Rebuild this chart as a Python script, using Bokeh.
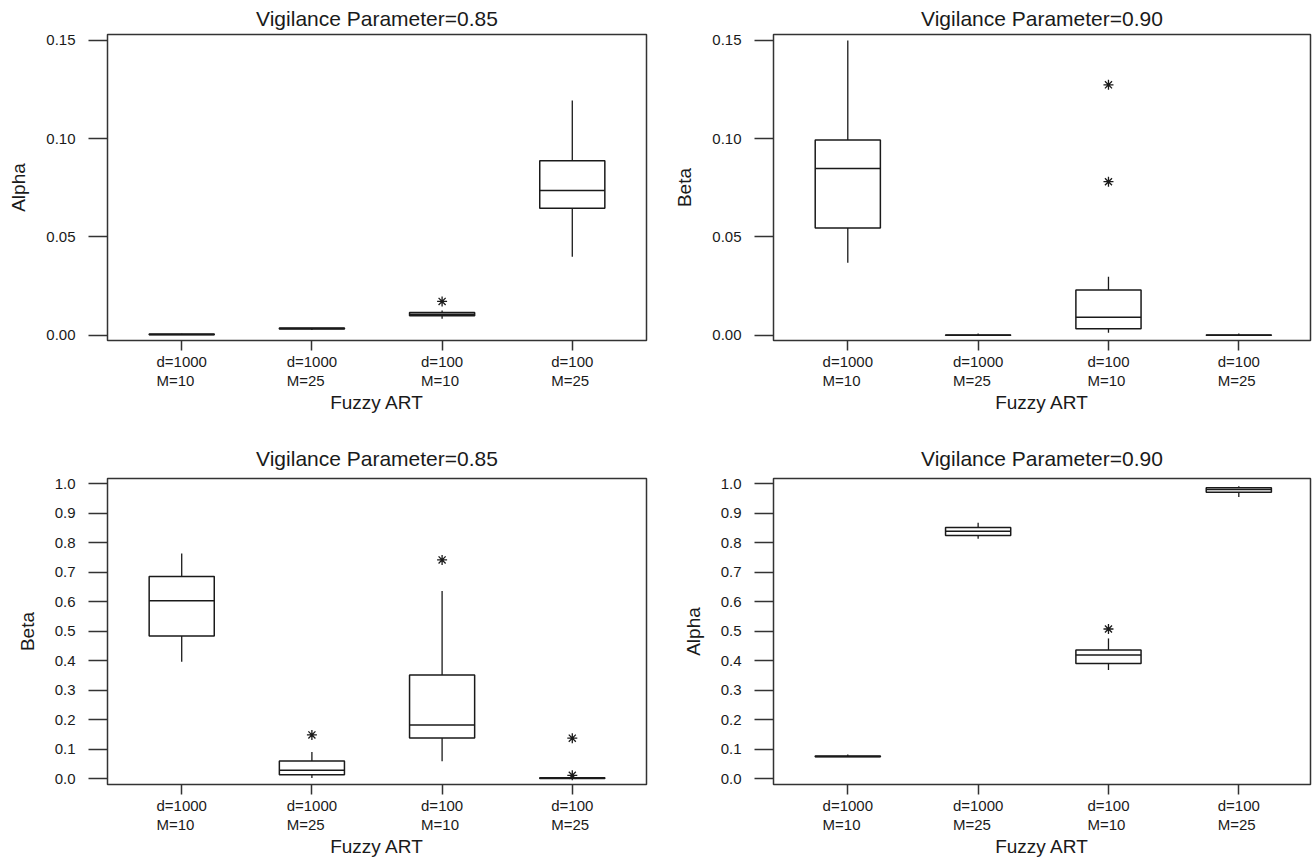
from bokeh.plotting import figure
from bokeh.layouts import column, row
from bokeh.models import FixedTicker, NumeralTickFormatter, ColumnDataSource, Range1d
from bokeh.embed import file_html
from bokeh.resources import INLINE

# ---------------- data ----------------
d_labels = ["d=1000", "d=1000", "d=100", "d=100"]
m_labels = ["M=10", "M=25", "M=10", "M=25"]

# Panel A: Alpha, vigilance 0.85
a85_lo = [0.0001, 0.0027, 0.0084, 0.0399]
a85_q1 = [0.0002, 0.0032, 0.0099, 0.0646]
a85_med = [0.0004, 0.0034, 0.0106, 0.0736]
a85_q3 = [0.0006, 0.0036, 0.0116, 0.0887]
a85_hi = [0.0007, 0.0037, 0.0126, 0.1194]
a85_out_x = [3]
a85_out_y = [0.0172]

# Panel B: Beta, vigilance 0.90
b90_lo = [0.0369, 0.0, 0.0012, 0.0]
b90_q1 = [0.0545, 0.0, 0.0033, 0.0]
b90_med = [0.0848, 0.0, 0.0091, 0.0]
b90_q3 = [0.0993, 0.0001, 0.0230, 0.0001]
b90_hi = [0.1500, 0.0008, 0.0298, 0.0008]
b90_out_x = [3, 3]
b90_out_y = [0.1274, 0.0781]

# Panel C: Beta, vigilance 0.85
b85_lo = [0.397, 0.0034, 0.060, 0.000]
b85_q1 = [0.484, 0.0140, 0.139, 0.001]
b85_med = [0.604, 0.029, 0.183, 0.002]
b85_q3 = [0.686, 0.0606, 0.352, 0.004]
b85_hi = [0.764, 0.091, 0.637, 0.005]
b85_out_x = [2, 3, 4, 4]
b85_out_y = [0.149, 0.742, 0.138, 0.012]

# Panel D: Alpha, vigilance 0.90
a90_lo = [0.074, 0.814, 0.369, 0.955]
a90_q1 = [0.075, 0.825, 0.391, 0.971]
a90_med = [0.076, 0.839, 0.420, 0.981]
a90_q3 = [0.078, 0.852, 0.437, 0.987]
a90_hi = [0.083, 0.868, 0.476, 0.992]
a90_out_x = [3]
a90_out_y = [0.508]

FONT = "Liberation Sans"
INK = "#1a1a1a"


def pad_lines(a, b):
    # left-align the two-line label block using no-break spaces
    wa = sum(0.833 if c == "M" else 0.584 if c == "=" else 0.556 for c in a)
    wb = sum(0.833 if c == "M" else 0.584 if c == "=" else 0.556 for c in b)
    n = int(round((wa - wb) / 0.278))
    return a + "\n" + b + "\u00a0" * max(n, 0)


def make_panel(title, ylabel, lo, q1, med, q3, hi, out_x, out_y,
               yr, yticks, yfmt, width, height, bl, br, bt, bb, xr_end, title_standoff):
    p = figure(width=width, height=height, output_backend="svg", toolbar_location=None,
               x_range=Range1d(0.43, xr_end), y_range=Range1d(*yr),
               min_border_left=bl, min_border_right=br, min_border_top=bt, min_border_bottom=bb)
    p.background_fill_color = "white"
    p.border_fill_color = "white"
    p.outline_line_color = "#333333"
    p.outline_line_width = 1.5
    p.xgrid.visible = False
    p.ygrid.visible = False

    p.title.text = title
    p.title.align = "center"
    p.title.text_font = FONT
    p.title.text_font_size = "21px"
    p.title.text_font_style = "normal"
    p.title.text_color = INK
    p.title.standoff = title_standoff

    xs = list(range(1, len(q1) + 1))
    src = ColumnDataSource(dict(
        x=xs, x0=[x - 0.25 for x in xs], x1=[x + 0.25 for x in xs],
        lo=lo, q1=q1, med=med, q3=q3, hi=hi))

    p.segment(x0="x", y0="q3", x1="x", y1="hi", source=src, line_color=INK, line_width=1.3)
    p.segment(x0="x", y0="q1", x1="x", y1="lo", source=src, line_color=INK, line_width=1.3)
    p.quad(left="x0", right="x1", bottom="q1", top="q3", source=src,
           fill_color="white", line_color=INK, line_width=1.5)
    p.segment(x0="x0", y0="med", x1="x1", y1="med", source=src, line_color=INK, line_width=1.5)
    p.scatter(x=out_x, y=out_y, marker="asterisk", size=10, line_color=INK, line_width=1.3)

    # x axis
    xa = p.xaxis[0]
    xa.ticker = FixedTicker(ticks=xs)
    xa.major_label_overrides = {x: pad_lines(d, m) for x, d, m in zip(xs, d_labels, m_labels)}
    xa.axis_label = "Fuzzy ART"
    xa.axis_line_color = None
    xa.major_tick_in = 0
    xa.major_tick_out = 10
    xa.major_tick_line_color = "#333333"
    xa.major_tick_line_width = 1.5
    xa.minor_tick_line_color = None
    xa.major_label_standoff = 2
    xa.major_label_text_font = FONT
    xa.major_label_text_font_size = "15px"
    xa.major_label_text_color = INK
    xa.major_label_text_line_height = 1.16
    xa.axis_label_standoff = 0
    xa.axis_label_text_font = FONT
    xa.axis_label_text_font_size = "19px"
    xa.axis_label_text_font_style = "normal"
    xa.axis_label_text_color = INK

    ya = p.yaxis[0]
    ya.ticker = FixedTicker(ticks=yticks)
    ya.formatter = NumeralTickFormatter(format=yfmt)
    ya.axis_label = ylabel
    ya.axis_line_color = None
    ya.major_tick_in = 0
    ya.major_tick_out = 19
    ya.major_tick_line_color = "#333333"
    ya.major_tick_line_width = 1.5
    ya.minor_tick_line_color = None
    ya.major_label_standoff = 13
    ya.major_label_text_font = FONT
    ya.major_label_text_font_size = "15px"
    ya.major_label_text_color = INK
    ya.axis_label_standoff = 14
    ya.axis_label_text_font = FONT
    ya.axis_label_text_font_size = "19px"
    ya.axis_label_text_font_style = "normal"
    ya.axis_label_text_color = INK
    return p


small_ticks = [0.0, 0.05, 0.10, 0.15]
unit_ticks = [i / 10 for i in range(11)]
small_range = (-0.0027, 0.1530)
unit_range = (-0.019, 1.018)

p1 = make_panel("Vigilance Parameter=0.85", "Alpha", a85_lo, a85_q1, a85_med, a85_q3, a85_hi,
                a85_out_x, a85_out_y, small_range, small_ticks, "0.00",
                668, 416, 107, 22, 34, 74, 4.57, 9)
p2 = make_panel("Vigilance Parameter=0.90", "Beta", b90_lo, b90_q1, b90_med, b90_q3, b90_hi,
                b90_out_x, b90_out_y, small_range, small_ticks, "0.00",
                644, 416, 105, 2, 34, 74, 4.55, 9)
p3 = make_panel("Vigilance Parameter=0.85", "Beta", b85_lo, b85_q1, b85_med, b85_q3, b85_hi,
                b85_out_x, b85_out_y, unit_range, unit_ticks, "0.0",
                668, 444, 107, 22, 62, 74, 4.57, 18)
p4 = make_panel("Vigilance Parameter=0.90", "Alpha", a90_lo, a90_q1, a90_med, a90_q3, a90_hi,
                a90_out_x, a90_out_y, unit_range, unit_ticks, "0.0",
                644, 444, 105, 2, 62, 74, 4.55, 18)

layout = column(row(p1, p2), row(p3, p4))
open("out.html", "w").write(file_html(layout, INLINE))
